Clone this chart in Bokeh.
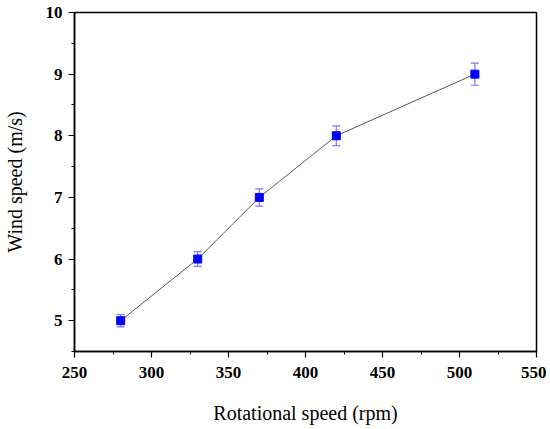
from bokeh.plotting import figure
from bokeh.models import ColumnDataSource, Whisker, TeeHead, Range1d, FixedTicker
from bokeh.embed import file_html
from bokeh.resources import INLINE

rpm = [280, 330, 370, 420, 510]
wind = [5, 6, 7, 8, 9]
err = [0.1, 0.12, 0.14, 0.16, 0.18]

x_ticks = [250, 300, 350, 400, 450, 500, 550]
y_ticks = [5, 6, 7, 8, 9, 10]

src = ColumnDataSource(dict(
    x=rpm, y=wind,
    lo=[w - e for w, e in zip(wind, err)],
    hi=[w + e for w, e in zip(wind, err)],
))

p = figure(width=546, height=426, output_backend="svg", toolbar_location=None,
           x_range=Range1d(250, 550), y_range=Range1d(4.5, 10),
           min_border_left=73, min_border_right=10, min_border_top=12, min_border_bottom=73)
p.xgrid.visible = False
p.ygrid.visible = False
p.outline_line_color = "black"
p.outline_line_width = 1.5
p.background_fill_color = "white"
p.border_fill_color = "white"

font = "Liberation Serif"
for ax in (p.xaxis[0], p.yaxis[0]):
    ax.axis_line_color = "black"
    ax.axis_line_width = 1.5
    ax.major_tick_line_color = "black"
    ax.minor_tick_line_color = "black"
    ax.major_tick_line_width = 1.2
    ax.minor_tick_line_width = 1.0
    ax.major_tick_out = 6
    ax.major_tick_in = 0
    ax.minor_tick_out = 3
    ax.minor_tick_in = 0
    ax.major_label_text_font = font
    ax.major_label_text_font_style = "bold"
    ax.major_label_text_font_size = "17px"
    ax.major_label_text_color = "black"
    ax.axis_label_text_font = font
    ax.axis_label_text_font_style = "normal"
    ax.axis_label_text_font_size = "20px"
    ax.axis_label_text_color = "black"

p.xaxis.ticker = FixedTicker(ticks=x_ticks, minor_ticks=[275, 325, 375, 425, 475, 525])
p.yaxis.ticker = FixedTicker(ticks=y_ticks, minor_ticks=[4.5, 5.5, 6.5, 7.5, 8.5, 9.5])
p.xaxis.axis_label = "Rotational speed (rpm)"
p.yaxis.axis_label = "Wind speed (m/s)"
p.xaxis.major_label_standoff = 9
p.xaxis.axis_label_standoff = 21
p.yaxis.major_label_standoff = 6
p.yaxis.axis_label_standoff = 17

p.line("x", "y", source=src, line_color="#555555", line_width=1)
wh = Whisker(source=src, base="x", lower="lo", upper="hi",
             line_color="#7777ff", line_width=1.2,
             upper_head=TeeHead(size=8, line_color="#7777ff", line_width=1.2),
             lower_head=TeeHead(size=8, line_color="#7777ff", line_width=1.2))
p.add_layout(wh)
p.scatter("x", "y", source=src, marker="square", size=8, fill_color="#0000ff", line_color="#0000ff")

open("out.html", "w").write(file_html(p, INLINE))
